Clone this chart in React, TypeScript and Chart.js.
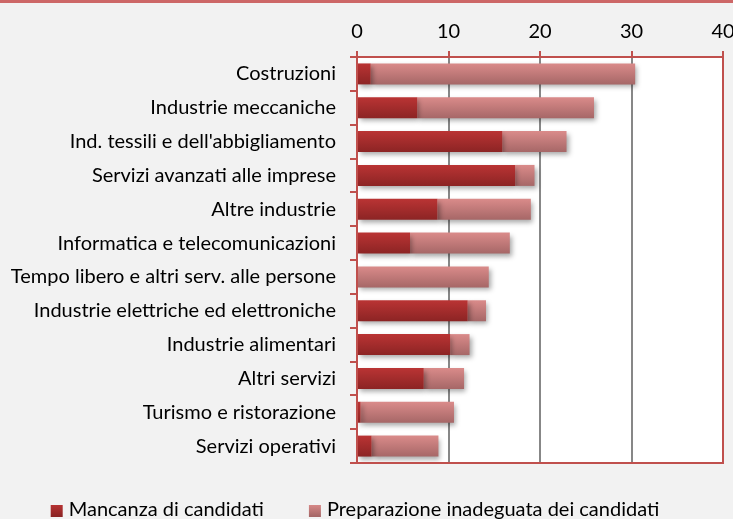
import React, { useEffect, useRef } from "react";
import { Chart, registerables } from "chart.js";

Chart.register(...registerables);

const categories = [
  "Costruzioni",
  "Industrie meccaniche",
  "Ind. tessili e dell'abbigliamento",
  "Servizi avanzati alle imprese",
  "Altre industrie",
  "Informatica e telecomunicazioni",
  "Tempo libero e altri serv. alle persone",
  "Industrie elettriche ed elettroniche",
  "Industrie alimentari",
  "Altri servizi",
  "Turismo e ristorazione",
  "Servizi operativi",
];
const mancanza = [1.5, 6.6, 15.9, 17.3, 8.8, 5.8, 0, 12.1, 10.2, 7.3, 0.4, 1.6];
const preparazione = [28.9, 19.3, 7.0, 2.1, 10.2, 10.9, 14.4, 2.0, 2.1, 4.4, 10.2, 7.3];
const seriesNames = ["Mancanza di candidati", "Preparazione inadeguata dei candidati"];
const xTicks = [0, 10, 20, 30, 40];

const FONT = "Lato";
const RED = "#c0504d";
const DARK = ["#ba3434", "#8c2424"];
const LIGHT = ["#da8b8a", "#a66767"];
const BAR_PCT = 0.62;

function barGradient(colors: string[]) {
  return (c: any) => {
    const chart = c.chart;
    const y = chart.scales && chart.scales.y;
    if (!chart.chartArea || !y || c.dataIndex === undefined) return colors[0];
    const band = (y.bottom - y.top) / categories.length;
    const h = band * BAR_PCT;
    const yc = y.getPixelForValue(c.dataIndex);
    const g = chart.ctx.createLinearGradient(0, yc - h / 2, 0, yc + h / 2);
    g.addColorStop(0, colors[0]);
    g.addColorStop(1, colors[1]);
    return g;
  };
}

const frame = {
  id: "frame",
  beforeDraw(chart: any) {
    const { ctx, chartArea: a, width, height } = chart;
    ctx.save();
    ctx.fillStyle = "#f2f2f2";
    ctx.fillRect(0, 0, width, height);
    ctx.fillStyle = "#cd6767";
    ctx.fillRect(0, 0, width, 3);
    ctx.fillStyle = "#ffffff";
    ctx.fillRect(a.left, a.top, a.right - a.left, a.bottom - a.top);
    ctx.restore();
  },
  beforeDatasetsDraw(chart: any) {
    const ctx = chart.ctx;
    ctx.save();
    ctx.shadowColor = "rgba(0,0,0,0.35)";
    ctx.shadowBlur = 5;
    ctx.shadowOffsetX = 2;
    ctx.shadowOffsetY = 3;
  },
  afterDatasetsDraw(chart: any) {
    chart.ctx.restore();
  },
  afterDraw(chart: any) {
    const { ctx, chartArea: a } = chart;
    ctx.save();
    ctx.strokeStyle = RED;
    ctx.lineWidth = 2;
    ctx.strokeRect(a.left, a.top, a.right - a.left, a.bottom - a.top);
    // legend
    ctx.font = `20px ${FONT}`;
    const sq = 12;
    const gapText = 6;
    const gapItem = 45;
    const sets = [DARK, LIGHT];
    const widths = seriesNames.map((n) => ctx.measureText(n).width);
    const total = widths.reduce((s, w) => s + sq + gapText + w, 0) + gapItem;
    let x = 355 - total / 2;
    const yMid = 510;
    seriesNames.forEach((n, i) => {
      const g = ctx.createLinearGradient(0, yMid - sq / 2, 0, yMid + sq / 2);
      g.addColorStop(0, sets[i][0]);
      g.addColorStop(1, sets[i][1]);
      ctx.fillStyle = g;
      ctx.fillRect(x, yMid - sq / 2 + 1, sq, sq);
      x += sq + gapText;
      ctx.fillStyle = "#000";
      ctx.textBaseline = "middle";
      ctx.textAlign = "left";
      ctx.fillText(n, x, yMid);
      x += widths[i] + gapItem;
    });
    ctx.restore();
  },
};

export default function App() {
  const ref = useRef<HTMLCanvasElement>(null);
  useEffect(() => {
    document.body.style.margin = "0";
    document.body.style.background = "#f2f2f2";
    const chart = new Chart(ref.current!, {
      type: "bar",
      data: {
        labels: categories,
        datasets: [
          { label: seriesNames[0], data: mancanza, backgroundColor: barGradient(DARK), borderWidth: 0 },
          { label: seriesNames[1], data: preparazione, backgroundColor: barGradient(LIGHT), borderWidth: 0 },
        ],
      },
      options: {
        indexAxis: "y",
        animation: false,
        responsive: false,
        maintainAspectRatio: false,
        layout: { padding: { left: 0, right: 10, top: 0, bottom: 56 } },
        datasets: { bar: { barPercentage: BAR_PCT, categoryPercentage: 1 } },
        scales: {
          x: {
            position: "top",
            stacked: true,
            min: 0,
            max: 40,
            afterBuildTicks(scale: any) {
              scale.ticks = xTicks.map((v) => ({ value: v }));
            },
            afterFit(scale: any) {
              scale.height = 57;
              scale.paddingLeft = 0;
              scale.paddingRight = 0;
            },
            ticks: { color: "#000", font: { family: FONT, size: 20 }, padding: 7 },
            grid: { color: "#878787", lineWidth: 2, tickColor: RED, tickLength: 6 },
            border: { display: false },
          },
          y: {
            stacked: true,
            afterFit(scale: any) {
              scale.width = 357;
              scale.paddingTop = 0;
              scale.paddingBottom = 0;
            },
            ticks: { color: "#000", font: { family: FONT, size: 20 }, padding: 14, autoSkip: false },
            grid: { offset: true, drawOnChartArea: false, color: RED, tickLength: 7, lineWidth: 2 },
            border: { display: false },
          },
        },
        plugins: {
          legend: { display: false },
          tooltip: { enabled: false },
        },
      },
      plugins: [frame],
    });
    return () => chart.destroy();
  }, []);
  return <canvas ref={ref} width={733} height={519} style={{ display: "block" }} />;
}
